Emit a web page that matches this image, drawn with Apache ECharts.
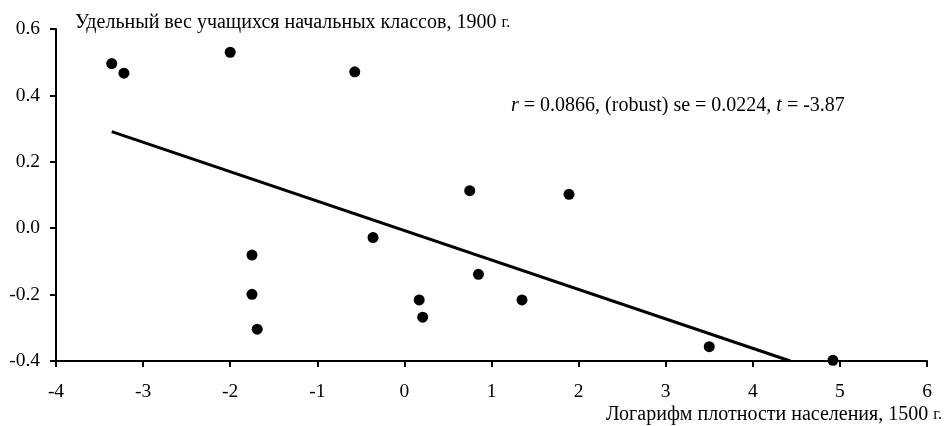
<!DOCTYPE html>
<html>
<head>
<meta charset="utf-8">
<script src="https://cdn.jsdelivr.net/npm/echarts@6/dist/echarts.min.js"></script>
<style>
  html, body { margin: 0; padding: 0; background: #fff; }
  #main { width: 944px; height: 426px; }
</style>
</head>
<body>
<div id="main"></div>
<script>
// точки: логарифм плотности населения 1500 г. / удельный вес учащихся 1900 г.
var xVals = [-3.36, -3.22, -2.00, -1.75, -1.75, -1.69, -0.57, -0.36, 0.17, 0.21, 0.75, 0.85, 1.35, 1.89, 3.50, 4.92];
var yVals = [0.496, 0.467, 0.530, -0.081, -0.199, -0.304, 0.471, -0.028, -0.216, -0.268, 0.113, -0.139, -0.216, 0.102, -0.357, -0.398];
// линия регрессии
var fitX = [-3.36, 4.43];
var fitY = [0.291, -0.400];
var xTicks = [-4, 6, 1];
var yTicks = [-0.4, 0.6, 0.2];

var pts = [];
for (var i = 0; i < xVals.length; i++) {
  pts.push([xVals[i], yVals[i]]);
}
var fit = [];
for (var j = 0; j < fitX.length; j++) {
  fit.push([fitX[j], fitY[j]]);
}

var font = '"Liberation Serif", "Times New Roman", serif';
var fs = 19.5;
var ts = 20;
var chart = echarts.init(document.getElementById('main'));
chart.setOption({
  animation: false,
  backgroundColor: '#fff',
  textStyle: { fontFamily: font, color: '#000' },
  grid: { left: 56, right: 17, top: 29, bottom: 65 },
  xAxis: {
    type: 'value',
    min: xTicks[0], max: xTicks[1], interval: xTicks[2],
    splitLine: { show: false },
    axisLine: { onZero: false, lineStyle: { color: '#000', width: 2 } },
    axisTick: { show: true, length: 6, lineStyle: { color: '#000', width: 2 } },
    axisLabel: { fontFamily: font, fontSize: fs, color: '#000', margin: 21 }
  },
  yAxis: {
    type: 'value',
    min: yTicks[0], max: yTicks[1], interval: yTicks[2],
    splitLine: { show: false },
    axisLine: { show: true, onZero: false, lineStyle: { color: '#000', width: 2 } },
    axisTick: { show: true, length: 6, lineStyle: { color: '#000', width: 2 } },
    axisLabel: {
      fontFamily: font, fontSize: fs, color: '#000', margin: 16,
      formatter: function (v) { return v.toFixed(1); }
    }
  },
  graphic: [
    {
      type: 'text', left: 75, top: 13,
      style: {
        text: '{a|Удельный вес учащихся начальных классов, 1900 }{b|г.}',
        rich: {
          a: { fontFamily: font, fontSize: ts, fill: '#000' },
          b: { fontFamily: font, fontSize: 16, fill: '#000' }
        }
      }
    },
    {
      type: 'text', right: 2, top: 405,
      style: {
        text: '{a|Логарифм плотности населения, 1500 }{b|г.}',
        rich: {
          a: { fontFamily: font, fontSize: ts, fill: '#000' },
          b: { fontFamily: font, fontSize: 16, fill: '#000' }
        }
      }
    },
    {
      type: 'text', left: 511, top: 96,
      style: {
        text: '{i|r}{a| = 0.0866, (robust) se = 0.0224, }{i|t}{a| = -3.87}',
        rich: {
          a: { fontFamily: font, fontSize: ts, fill: '#000' },
          i: { fontFamily: font, fontSize: ts, fontStyle: 'italic', fill: '#000' }
        }
      }
    }
  ],
  series: [
    {
      type: 'line',
      data: fit,
      symbol: 'none',
      lineStyle: { color: '#000', width: 3 },
      z: 2
    },
    {
      type: 'scatter',
      data: pts,
      symbol: 'circle',
      symbolSize: 11,
      itemStyle: { color: '#000', opacity: 1 },
      z: 3
    }
  ]
});
</script>
</body>
</html>
